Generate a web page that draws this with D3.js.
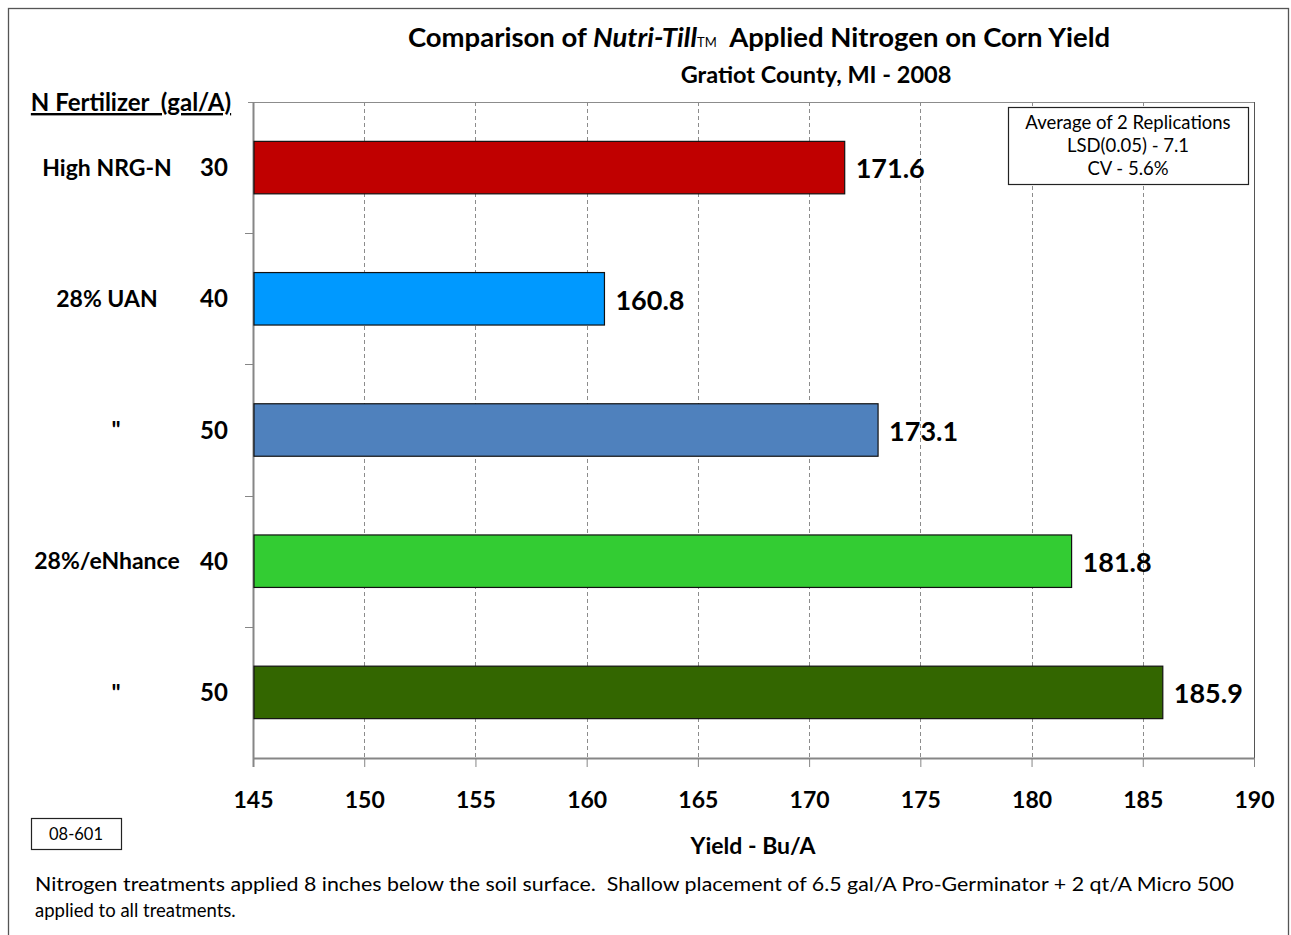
<!DOCTYPE html>
<html>
<head>
<meta charset="utf-8">
<script src="https://cdn.jsdelivr.net/npm/d3@7"></script>
<style>
  html, body { margin: 0; padding: 0; background: #fff; }
  svg { display: block; }
  text { font-family: Lato, "Open Sans", sans-serif; fill: #000; white-space: pre; }
</style>
</head>
<body>
<svg id="chart" width="1291" height="935"></svg>
<script>
// ---- data ----
const treatments = ["High NRG-N", "28% UAN", "\"", "28%/eNhance", "\""];
const rates = ["30", "40", "50", "40", "50"];
const yields = [171.6, 160.8, 173.1, 181.8, 185.9];
const barColors = ["#C00000", "#0099FF", "#4F81BD", "#33CC33", "#336600"];
const xTicks = [145, 150, 155, 160, 165, 170, 175, 180, 185, 190];
const statsLines = ["Average of 2 Replications", "LSD(0.05) - 7.1", "CV - 5.6%"];
const footnoteLines = [
  "Nitrogen treatments applied 8 inches below the soil surface.  Shallow placement of 6.5 gal/A Pro-Germinator + 2 qt/A Micro 500",
  "applied to all treatments."
];

// ---- layout ----
const svg = d3.select("#chart");
const plot = { left: 253, right: 1254, top: 102, bottom: 758 };

svg.append("rect").attr("x", 8.5).attr("y", 8.5).attr("width", 1280).attr("height", 940)
  .attr("fill", "#fff").attr("stroke", "#555").attr("stroke-width", 1.3);

const x = d3.scaleLinear().domain([145, 190]).range([plot.left, plot.right]);
const idx = d3.range(treatments.length);
const y = d3.scaleBand().domain(idx).range([plot.top, plot.bottom]).paddingInner(0.6).paddingOuter(0.3);
const yBoundary = d3.scaleLinear().domain([0, treatments.length]).range([plot.top, plot.bottom]);

// gridlines
svg.append("g").selectAll("line").data(xTicks.slice(1, -1)).join("line")
  .attr("x1", d => Math.round(x(d)) + 0.5).attr("x2", d => Math.round(x(d)) + 0.5)
  .attr("y1", plot.top).attr("y2", plot.bottom)
  .attr("stroke", "#8c8c8c").attr("stroke-width", 1).attr("stroke-dasharray", "4,3");

// plot border top/right
svg.append("line").attr("x1", plot.left - 5).attr("x2", plot.right).attr("y1", plot.top + 0.5).attr("y2", plot.top + 0.5)
  .attr("stroke", "#8c8c8c");
svg.append("line").attr("x1", plot.right + 0.5).attr("x2", plot.right + 0.5).attr("y1", plot.top).attr("y2", plot.bottom)
  .attr("stroke", "#555");

// x axis
const xAxis = d3.axisBottom(x).tickValues(xTicks).tickSize(9).tickSizeOuter(0).tickFormat(d3.format("d"));
const gx = svg.append("g").attr("transform", `translate(0,${plot.bottom})`).call(xAxis);
gx.select(".domain").attr("stroke", "#868686").attr("stroke-width", 2);
gx.selectAll(".tick line").attr("stroke", "#868686");
gx.selectAll(".tick text").attr("dy", 0).attr("y", 50)
  .style("font-family", "Lato, sans-serif").style("font-size", "23px").style("font-weight", "bold").attr("fill", "#000");

// y axis with ticks at category boundaries
svg.append("line").attr("x1", plot.left + 0.5).attr("x2", plot.left + 0.5).attr("y1", plot.top).attr("y2", plot.bottom + 9)
  .attr("stroke", "#868686").attr("stroke-width", 2);
svg.append("g").selectAll("line").data(d3.range(1, treatments.length)).join("line")
  .attr("x1", plot.left - 8).attr("x2", plot.left)
  .attr("y1", d => Math.round(yBoundary(d)) + 0.5).attr("y2", d => Math.round(yBoundary(d)) + 0.5)
  .attr("stroke", "#868686");

// bars
svg.append("g").selectAll("rect").data(idx).join("rect")
  .attr("x", plot.left + 1).attr("y", i => y(i))
  .attr("width", i => x(yields[i]) - plot.left - 1).attr("height", y.bandwidth())
  .attr("fill", i => barColors[i]).attr("stroke", "#111").attr("stroke-width", 1.2);

// value labels
svg.append("g").selectAll("text").data(idx).join("text")
  .attr("x", i => x(yields[i]) + 11).attr("y", i => y(i) + y.bandwidth() / 2 + 1)
  .attr("dy", "0.36em").style("font-size", "27px").style("font-weight", "bold")
  .text(i => yields[i].toFixed(1));

// category labels
svg.append("g").selectAll("text").data(idx).join("text")
  .attr("x", i => treatments[i] === "\"" ? 116 : 107).attr("y", i => y(i) + y.bandwidth() / 2)
  .attr("dy", "0.36em").attr("text-anchor", "middle").style("font-size", "23px").style("font-weight", "bold")
  .text(i => treatments[i]);
svg.append("g").selectAll("text").data(idx).join("text")
  .attr("x", 214).attr("y", i => y(i) + y.bandwidth() / 2)
  .attr("dy", "0.36em").attr("text-anchor", "middle").style("font-size", "24px").style("font-weight", "bold")
  .text(i => rates[i]);

// y header
svg.append("text").attr("x", 131).attr("y", 111).attr("text-anchor", "middle")
  .style("font-size", "24px").style("font-weight", "bold").style("text-decoration", "underline")
  .text("N Fertilizer  (gal/A)");

// title
const title = svg.append("text").attr("x", 759).attr("y", 47).attr("text-anchor", "middle")
  .style("font-size", "27.5px").style("font-weight", "bold");
title.append("tspan").text("Comparison of ");
title.append("tspan").style("font-style", "italic").text("Nutri-Till");
title.append("tspan").style("font-size", "13px").style("font-weight", "normal").text("TM");
title.append("tspan").text("  Applied Nitrogen on Corn Yield");
svg.append("text").attr("x", 816).attr("y", 83).attr("text-anchor", "middle")
  .style("font-size", "23.5px").style("font-weight", "bold").text("Gratiot County, MI - 2008");

// stats box
svg.append("rect").attr("x", 1008.5).attr("y", 107.5).attr("width", 240).attr("height", 77)
  .attr("fill", "#fff").attr("stroke", "#222").attr("stroke-width", 1.2);
svg.append("g").selectAll("text").data(statsLines).join("text")
  .attr("x", 1128).attr("y", (d, i) => 129 + i * 23).attr("text-anchor", "middle")
  .style("font-size", "18.5px").text(d => d);

// x axis title
svg.append("text").attr("x", 753).attr("y", 854).attr("text-anchor", "middle")
  .style("font-size", "23px").style("font-weight", "bold").text("Yield - Bu/A");

// code box
svg.append("rect").attr("x", 31.5).attr("y", 818.5).attr("width", 90).attr("height", 31)
  .attr("fill", "#fff").attr("stroke", "#222").attr("stroke-width", 1.2);
svg.append("text").attr("x", 76).attr("y", 840).attr("text-anchor", "middle")
  .style("font-size", "16.5px").text("08-601");

// footnote
svg.append("g").selectAll("text").data(footnoteLines).join("text")
  .attr("x", 35).attr("y", (d, i) => 891 + i * 26)
  .attr("textLength", (d, i) => i === 0 ? 1199 : null).attr("lengthAdjust", "spacingAndGlyphs")
  .style("font-size", "18.5px").text(d => d);
</script>
</body>
</html>
